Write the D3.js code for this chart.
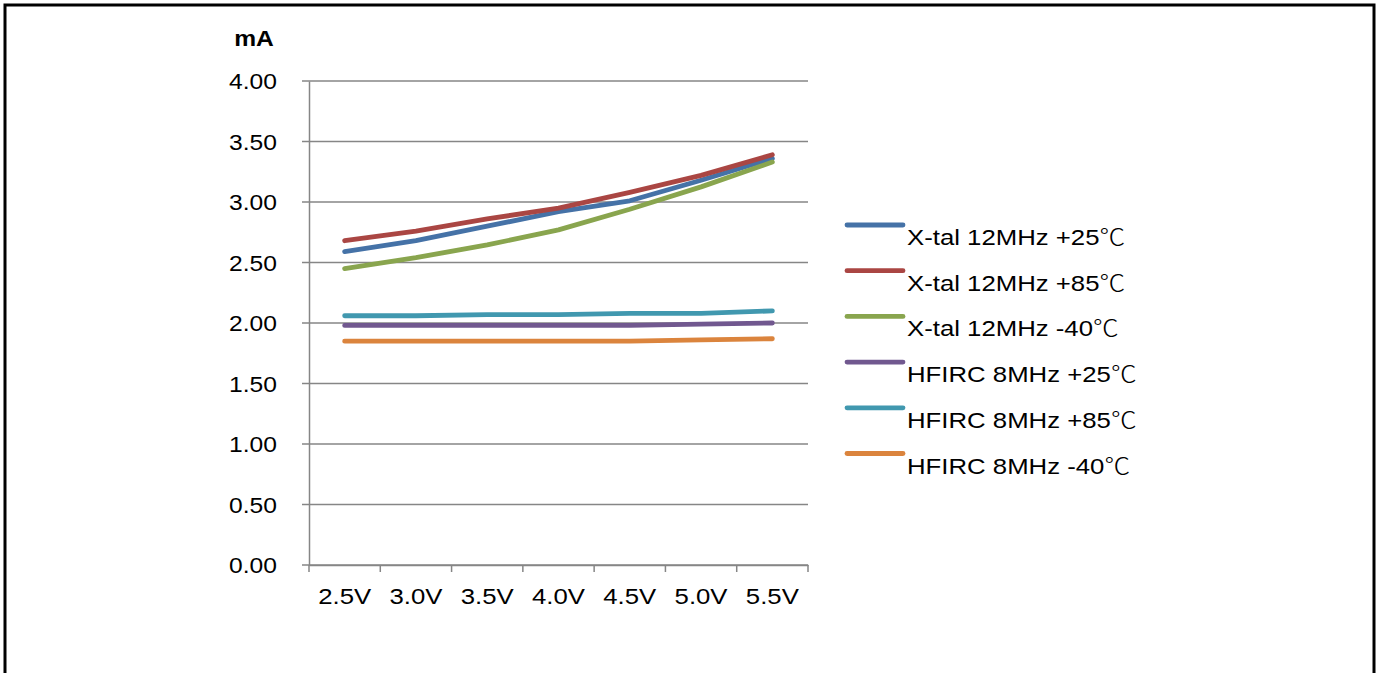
<!DOCTYPE html>
<html>
<head>
<meta charset="utf-8">
<script src="https://cdn.jsdelivr.net/npm/d3@7"></script>
<style>
  html, body { margin: 0; padding: 0; background: #fff; }
  svg { display: block; }
  text { font-family: "Liberation Sans", Arial, "Noto Sans CJK SC", sans-serif; fill: #000; }
</style>
</head>
<body>
<svg id="chart" width="1382" height="673"></svg>
<script>
const categories = ["2.5V", "3.0V", "3.5V", "4.0V", "4.5V", "5.0V", "5.5V"];
const seriesNames = [
  "X-tal 12MHz +25\u2103",
  "X-tal 12MHz +85\u2103",
  "X-tal 12MHz -40\u2103",
  "HFIRC 8MHz +25\u2103",
  "HFIRC 8MHz +85\u2103",
  "HFIRC 8MHz -40\u2103"
];
const xtal25  = [2.59, 2.68, 2.80, 2.92, 3.01, 3.18, 3.36];
const xtal85  = [2.68, 2.76, 2.86, 2.95, 3.08, 3.22, 3.39];
const xtalM40 = [2.45, 2.54, 2.645, 2.77, 2.94, 3.125, 3.33];
const hf25    = [1.98, 1.98, 1.98, 1.98, 1.98, 1.99, 2.00];
const hf85    = [2.06, 2.06, 2.07, 2.07, 2.08, 2.08, 2.10];
const hfM40   = [1.85, 1.85, 1.85, 1.85, 1.85, 1.86, 1.87];
const seriesValues = [xtal25, xtal85, xtalM40, hf25, hf85, hfM40];
const colors = ["#4572A7", "#AA4643", "#89A54E", "#71588F", "#4198AF", "#DB843D"];
const yTicks = [0, 0.5, 1, 1.5, 2, 2.5, 3, 3.5, 4];
const yLabel = "mA";

(function () {
const svg = d3.select("#chart");
const SX = 1.12;

// outer frame
svg.append("rect").attr("x", 5).attr("y", 5).attr("width", 1369).attr("height", 720)
  .attr("fill", "none").attr("stroke", "#000").attr("stroke-width", 3);

const pLeft = 309, pRight = 808, pTop = 81, pBottom = 565;
const x = d3.scaleBand().domain(categories).range([pLeft, pRight]).paddingInner(0).paddingOuter(0);
const y = d3.scaleLinear().domain([0, 4]).range([pBottom, pTop]);

// gridlines
svg.append("g").selectAll("line").data(yTicks).join("line")
  .attr("x1", pLeft - 7).attr("x2", pRight)
  .attr("y1", d => y(d)).attr("y2", d => y(d))
  .attr("stroke", "#868686").attr("stroke-width", 1.5);

// y axis
const yAxis = svg.append("g").attr("transform", `translate(${pLeft},0)`)
  .call(d3.axisLeft(y).tickValues(yTicks).tickFormat(d3.format(".2f")).tickSize(0).tickPadding(0));
yAxis.select(".domain").attr("stroke", "#868686").attr("stroke-width", 1.5);
yAxis.selectAll("text")
  .attr("x", -32 / SX).attr("dy", "0.35em")
  .attr("transform", `scale(${SX},1)`)
  .style("font-size", "22px");

// x axis
const xAxis = svg.append("g").attr("transform", `translate(0,${pBottom})`)
  .call(d3.axisBottom(x).tickSize(0).tickPadding(0));
xAxis.select(".domain").attr("stroke", "#868686").attr("stroke-width", 1.5);
xAxis.selectAll(".tick text")
  .attr("y", 0).attr("x", 0).attr("dy", "39px")
  .attr("transform", `scale(${SX},1)`)
  .style("font-size", "23px");

// boundary tick marks
const bounds = categories.map(c => x(c)).concat([x.range()[1]]);
svg.append("g").selectAll("line").data(bounds).join("line")
  .attr("x1", d => d).attr("x2", d => d)
  .attr("y1", pBottom).attr("y2", pBottom + 7)
  .attr("stroke", "#868686").attr("stroke-width", 1.5);

// y label
svg.append("text").attr("transform", `translate(254,46) scale(${SX},1)`)
  .attr("text-anchor", "middle").style("font-size", "22px").style("font-weight", "bold")
  .text(yLabel);

// lines
const line = d3.line()
  .x((d, i) => x(categories[i]) + x.bandwidth() / 2)
  .y(d => y(d));
svg.append("g").selectAll("path").data(seriesValues).join("path")
  .attr("d", d => line(d))
  .attr("fill", "none")
  .attr("stroke", (d, i) => colors[i])
  .attr("stroke-width", 4.8)
  .attr("stroke-linecap", "round")
  .attr("stroke-linejoin", "round");

// legend
const items = svg.append("g").selectAll("g").data(seriesNames).join("g")
  .attr("transform", (d, i) => `translate(847,${225 + i * 45.7})`);
items.append("line").attr("x1", 0).attr("x2", 56).attr("y1", 0).attr("y2", 0)
  .attr("stroke", (d, i) => colors[i])
  .attr("stroke-width", 4.8).attr("stroke-linecap", "round");
const lt = items.append("text")
  .attr("transform", `translate(60,20) scale(${SX},1)`)
  .style("font-size", "23px");
lt.append("tspan").text(d => d.slice(0, -1));
lt.append("tspan").style("font-family", '"Noto Sans CJK SC", sans-serif').style("font-weight", "300")
  .text(d => d.slice(-1));
})();
</script>
</body>
</html>
